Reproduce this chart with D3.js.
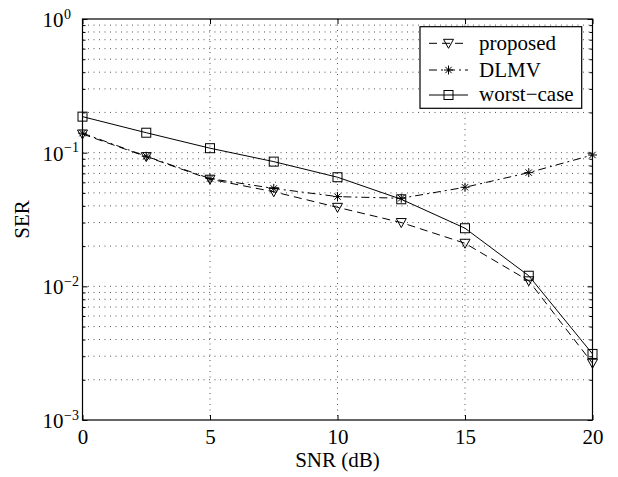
<!DOCTYPE html>
<html>
<head>
<meta charset="utf-8">
<script src="https://cdn.jsdelivr.net/npm/d3@7"></script>
<style>
  body { margin: 0; background: #fff; }
  text { font-family: "Liberation Serif", "Times New Roman", serif; fill: #000; }
</style>
</head>
<body>
<div id="chart"></div>
<script>
// values
const snr = [0, 2.5, 5, 7.5, 10, 12.5, 15, 17.5, 20];
const proposed = [0.138, 0.0934, 0.0633, 0.051, 0.039, 0.030, 0.021, 0.0110, 0.00266];
const dlmv = [0.140, 0.094, 0.064, 0.054, 0.0469, 0.0456, 0.0551, 0.0709, 0.0961];
const worstCase = [0.186, 0.141, 0.108, 0.0857, 0.0655, 0.0448, 0.0272, 0.0120, 0.00312];
const xTicks = [0, 5, 10, 15, 20];
const yTicks = [1e-3, 1e-2, 1e-1, 1];
const yExp = ["\u22123", "\u22122", "\u22121", "0"];
const legendLabels = ["proposed", "DLMV", "worst\u2212case"];

const svgW = 618, svgH = 477;
const pLeft = 82.5, pRight = 592.5, pTop = 19, pBottom = 420;

const svg = d3.select("#chart").append("svg")
  .attr("width", svgW)
  .attr("height", svgH);

const x = d3.scaleLinear().domain([0, 20]).range([pLeft, pRight]);
const y = d3.scaleLog().domain([1e-3, 1]).range([pBottom, pTop]);

// minor log values for grid + small ticks
let minors = [];
[1e-3, 1e-2, 1e-1].forEach(d => {
  for (let k = 2; k <= 9; k++) minors.push(d * k);
});

// dotted grid
const grid = svg.append("g")
  .attr("stroke", "#555")
  .attr("stroke-width", 1)
  .attr("stroke-dasharray", "1,4.5");
grid.selectAll(".hg")
  .data(minors.concat(yTicks.slice(1, 3)))
  .enter().append("line")
  .attr("x1", pLeft).attr("x2", pRight)
  .attr("y1", d => y(d)).attr("y2", d => y(d));
grid.selectAll(".vg")
  .data(xTicks.slice(1, 4))
  .enter().append("line")
  .attr("x1", d => x(d)).attr("x2", d => x(d))
  .attr("y1", pTop).attr("y2", pBottom);

// series
const series = [
  { vals: proposed, dash: "8,5", marker: "tri" },
  { vals: dlmv, dash: "8,4,2,4", marker: "star" },
  { vals: worstCase, dash: null, marker: "sq" }
];

const line = d3.line()
  .x(d => x(d[0]))
  .y(d => y(d[1]));

function drawMarker(g, kind, cx, cy) {
  if (kind == "tri") {
    g.append("path")
      .attr("d", `M${cx - 5},${cy - 4}L${cx + 5},${cy - 4}L${cx},${cy + 5}Z`)
      .attr("fill", "none").attr("stroke", "#000").attr("stroke-width", 1);
  } else if (kind == "sq") {
    g.append("rect")
      .attr("x", cx - 4.5).attr("y", cy - 4.5)
      .attr("width", 9).attr("height", 9)
      .attr("fill", "none").attr("stroke", "#000").attr("stroke-width", 1);
  } else {
    const r = 4.5, s = r * 0.7071;
    g.append("path")
      .attr("d", `M${cx - r},${cy}L${cx + r},${cy}M${cx},${cy - r}L${cx},${cy + r}` +
        `M${cx - s},${cy - s}L${cx + s},${cy + s}M${cx - s},${cy + s}L${cx + s},${cy - s}`)
      .attr("stroke", "#000").attr("stroke-width", 1);
  }
}

series.forEach(s => {
  const pts = snr.map((v, i) => [v, s.vals[i]]);
  svg.append("path")
    .datum(pts)
    .attr("d", line)
    .attr("fill", "none")
    .attr("stroke", "#000")
    .attr("stroke-width", 1)
    .attr("stroke-dasharray", s.dash);
  const mg = svg.append("g");
  pts.forEach(p => drawMarker(mg, s.marker, x(p[0]), y(p[1])));
});

// axes, ticks inward on all sides
const axB = svg.append("g")
  .attr("transform", `translate(0,${pBottom})`)
  .call(d3.axisBottom(x).tickValues(xTicks).tickSize(-5).tickSizeOuter(0).tickPadding(9));
axB.selectAll("text").attr("font-size", 21).attr("font-family", "Liberation Serif");

svg.append("g")
  .attr("transform", `translate(0,${pTop})`)
  .call(d3.axisTop(x).tickValues(xTicks).tickSize(-5).tickSizeOuter(0).tickFormat(""));

svg.append("g")
  .attr("transform", `translate(${pLeft},0)`)
  .call(d3.axisLeft(y).tickValues(yTicks).tickSize(-5).tickSizeOuter(0).tickFormat(""));
svg.append("g")
  .attr("transform", `translate(${pLeft},0)`)
  .call(d3.axisLeft(y).tickValues(minors).tickSize(-3).tickSizeOuter(0).tickFormat(""));
svg.append("g")
  .attr("transform", `translate(${pRight},0)`)
  .call(d3.axisRight(y).tickValues(yTicks).tickSize(-5).tickSizeOuter(0).tickFormat(""));
svg.append("g")
  .attr("transform", `translate(${pRight},0)`)
  .call(d3.axisRight(y).tickValues(minors).tickSize(-3).tickSizeOuter(0).tickFormat(""));

svg.selectAll(".domain").attr("stroke", "none");
svg.selectAll(".tick line").attr("stroke", "#000");

// frame
svg.append("rect")
  .attr("x", pLeft).attr("y", pTop)
  .attr("width", pRight - pLeft).attr("height", pBottom - pTop)
  .attr("fill", "none").attr("stroke", "#000").attr("stroke-width", 1.2);

// y tick labels 10^n
yTicks.forEach((d, i) => {
  svg.append("text")
    .attr("x", 63.5)
    .attr("y", y(d) + 8)
    .attr("text-anchor", "end")
    .attr("font-size", 21)
    .text("10");
  svg.append("text")
    .attr("x", 64)
    .attr("y", y(d) - 0.5)
    .attr("font-size", 14)
    .text(yExp[i]);
});

// axis titles
svg.append("text")
  .attr("x", (pLeft + pRight) / 2)
  .attr("y", 467)
  .attr("text-anchor", "middle")
  .attr("font-size", 21)
  .text("SNR (dB)");
svg.append("text")
  .attr("transform", `translate(29,${(pTop + pBottom) / 2}) rotate(-90)`)
  .attr("text-anchor", "middle")
  .attr("font-size", 21)
  .text("SER");

// legend
const lg = svg.append("g");
lg.append("rect")
  .attr("x", 420).attr("y", 26.7)
  .attr("width", 161.7).attr("height", 81.6)
  .attr("fill", "#fff").attr("stroke", "#000").attr("stroke-width", 1.2);
const ly = [43.3, 70, 95];
const lb = [50, 76.7, 101];
series.forEach((s, i) => {
  lg.append("line")
    .attr("x1", 429).attr("x2", 468)
    .attr("y1", ly[i]).attr("y2", ly[i])
    .attr("stroke", "#000").attr("stroke-width", 1)
    .attr("stroke-dasharray", s.dash);
  drawMarker(lg, s.marker, 448.5, ly[i]);
  lg.append("text")
    .attr("x", 479).attr("y", lb[i])
    .attr("font-size", 21)
    .text(legendLabels[i]);
});
</script>
</body>
</html>
